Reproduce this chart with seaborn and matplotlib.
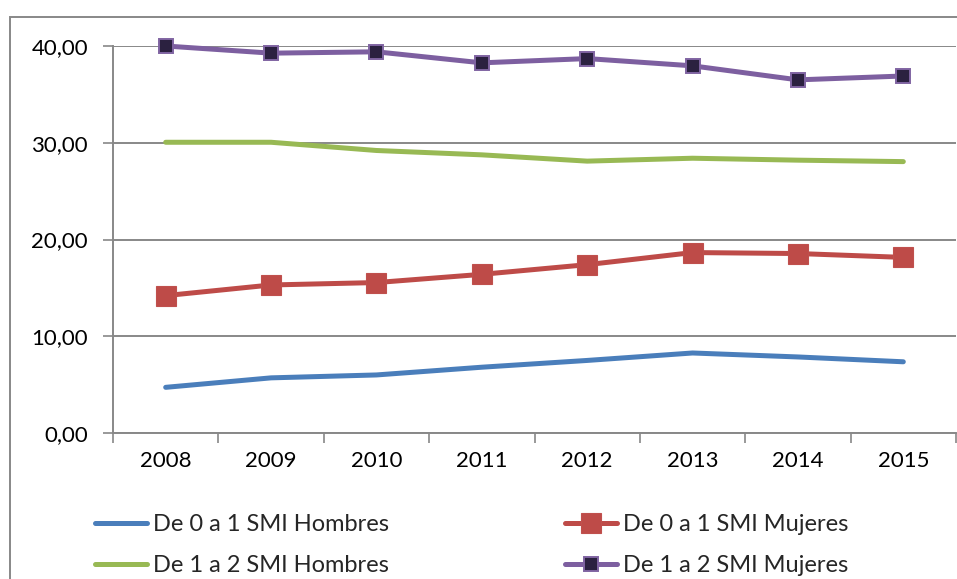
import matplotlib
matplotlib.use("Agg")
import matplotlib.pyplot as plt
import matplotlib.ticker as mticker
from matplotlib.lines import Line2D
from matplotlib.patches import Rectangle
import seaborn as sns
import pandas as pd
import numpy as np

# Data
years = ["2008", "2009", "2010", "2011", "2012", "2013", "2014", "2015"]
hombres_0_1 = [4.72, 5.70, 6.00, 6.80, 7.50, 8.27, 7.86, 7.36]
mujeres_0_1 = [14.20, 15.30, 15.55, 16.40, 17.40, 18.65, 18.55, 18.15]
hombres_1_2 = [30.05, 30.05, 29.20, 28.75, 28.10, 28.40, 28.20, 28.05]
mujeres_1_2 = [40.00, 39.26, 39.40, 38.26, 38.70, 37.95, 36.50, 36.90]

labels = ["De 0 a 1 SMI Hombres", "De 0 a 1 SMI Mujeres",
          "De 1 a 2 SMI Hombres", "De 1 a 2 SMI Mujeres"]
series = [hombres_0_1, mujeres_0_1, hombres_1_2, mujeres_1_2]
colors = ["#4a7ebb", "#be4b48", "#98b954", "#7d5fa0"]

sns.set_theme(style="white")
plt.rcParams["font.family"] = ["Lato", "DejaVu Sans"]

W, H = 957, 579
fig = plt.figure(figsize=(W / 100, H / 100), dpi=100)
ax = fig.add_axes([113 / W, 1 - 433 / H, (956 - 113) / W, (433 - 46) / H])

grid_c = "#888888"
pos = np.arange(len(years))

styles = {
    0: dict(marker=None),
    1: dict(marker="s", markersize=14, markerfacecolor="#be4b48",
            markeredgecolor="#c0504d", markeredgewidth=0.8),
    2: dict(marker=None),
    3: dict(marker="s", markersize=10.5, markerfacecolor="#2b2140",
            markeredgecolor="#8064a2", markeredgewidth=1.4),
}

handles = []
for i, (vals, lab, col) in enumerate(zip(series, labels, colors)):
    df = pd.DataFrame({"x": pos, "y": vals})
    sns.lineplot(data=df, x="x", y="y", ax=ax, color=col, linewidth=3.6,
                 solid_capstyle="round", zorder=3 + i, legend=False,
                 clip_on=False, **styles[i])
    handles.append(Line2D([0], [0], color=col, linewidth=3.6,
                          solid_capstyle="round", **styles[i]))

ax.set_xlim(-0.5, len(years) - 0.5)
ax.set_ylim(0, 40)
ax.set_xlabel("")
ax.set_ylabel("")

# y axis
ax.set_yticks([0, 10, 20, 30, 40])
ax.yaxis.set_major_formatter(mticker.FuncFormatter(lambda v, p: f"{v:.2f}".replace(".", ",")))
ax.yaxis.grid(True, color=grid_c, linewidth=1.4)
ax.xaxis.grid(False)
ax.tick_params(axis="y", which="major", direction="out", length=7, width=1.2,
               color=grid_c, labelsize=16, pad=11, labelcolor="black", left=True)

# x axis: labels centred in categories, ticks at boundaries
ax.set_xticks(pos)
ax.set_xticklabels(years)
ax.set_xticks(np.arange(len(years) + 1) - 0.5, minor=True)
ax.tick_params(axis="x", which="major", length=0, labelsize=16, pad=13,
               labelcolor="black")
ax.tick_params(axis="x", which="minor", direction="out", length=7, width=1.2,
               color=grid_c, bottom=True)

for s in ["top", "right"]:
    ax.spines[s].set_visible(False)
for s in ["left", "bottom"]:
    ax.spines[s].set_color(grid_c)
    ax.spines[s].set_linewidth(1.4)

# chart frame
fig.patches.append(Rectangle((9.5 / W, -0.1), 1.2, 1.1 - 16.5 / H,
                             transform=fig.transFigure, fill=False,
                             edgecolor=grid_c, linewidth=1.4, zorder=0))

# legend in two columns
leg_kw = dict(loc="center left", frameon=False, fontsize=17, handlelength=2.2,
              handletextpad=0.25, labelspacing=0.85, borderpad=0,
              borderaxespad=0)
leg1 = fig.legend([handles[0], handles[2]], [labels[0], labels[2]],
                  bbox_to_anchor=(95 / W, 1 - 545 / H), **leg_kw)
leg2 = fig.legend([handles[1], handles[3]], [labels[1], labels[3]],
                  bbox_to_anchor=(565 / W, 1 - 545 / H), **leg_kw)

fig.savefig("out.png", dpi=100, facecolor="white")
